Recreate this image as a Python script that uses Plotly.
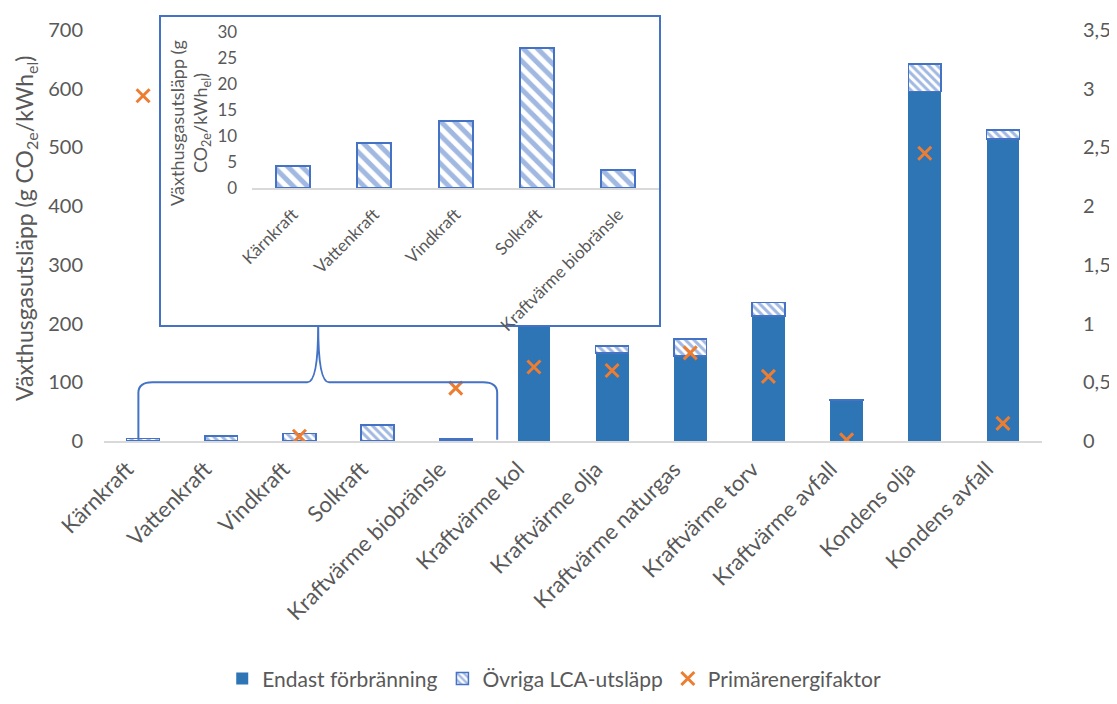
"""
Växthusgasutsläpp per kraftslag med inzoomad ruta för de små staplarna.
"""

import plotly.graph_objects as go

# --- data -----------------------------------------------------------------
kategorier = [
    "Kärnkraft", "Vattenkraft", "Vindkraft", "Solkraft", "Kraftvärme biobränsle",
    "Kraftvärme kol", "Kraftvärme olja", "Kraftvärme naturgas", "Kraftvärme torv",
    "Kraftvärme avfall", "Kondens olja", "Kondens avfall",
]
endast_forbranning = [0, 0, 0, 0, 0, 380, 150, 145, 213, 70, 595, 514]
ovriga_lca = [4.3, 8.7, 12.8, 27.0, 3.5, 20, 12, 29, 23, 0.5, 47, 16]
primarenergifaktor = [2.94, None, 0.04, None, 0.45, 0.63, 0.60, 0.75, 0.55, 0.01, 2.45, 0.15]

inset_kategorier = kategorier[:5]
inset_varden = ovriga_lca[:5]

# --- style ----------------------------------------------------------------
FONT = "Lato"
GREY = "#595959"
SOLID = "#2E75B6"
HATCH = "#4472C4"
ORANGE = "#ED7D31"
AXIS = "#D9D9D9"

fig = go.Figure()

fig.add_trace(go.Bar(
    x=kategorier, y=endast_forbranning, name="Endast förbränning",
    marker=dict(color=SOLID, line=dict(width=0)),
))
fig.add_trace(go.Bar(
    x=kategorier, y=ovriga_lca, name="Övriga LCA-utsläpp",
    marker=dict(
        color="white",
        line=dict(color=HATCH, width=1.5),
        pattern=dict(shape="\\", fgcolor=HATCH, bgcolor="white", size=6, solidity=0.5),
    ),
))
fig.add_trace(go.Scatter(
    x=kategorier, y=primarenergifaktor, name="Primärenergifaktor", yaxis="y2",
    mode="markers",
    marker=dict(symbol="x-thin", size=13, line=dict(color=ORANGE, width=3)),
))

# white box behind the inset (own subplot so it covers the main bars)
fig.add_trace(go.Scatter(x=[], y=[], xaxis="x2", yaxis="y3", showlegend=False, hoverinfo="skip"))

# inset
fig.add_trace(go.Bar(
    x=inset_kategorier, y=inset_varden, xaxis="x3", yaxis="y4", showlegend=False,
    marker=dict(
        color="white",
        line=dict(color=HATCH, width=2),
        pattern=dict(shape="\\", fgcolor=HATCH, bgcolor="white", size=10, solidity=0.5),
    ),
))

xtick_main = dict(family=FONT, size=22, color=GREY)
ytick_main = dict(family=FONT, size=20, color=GREY)
tick_inset = dict(family=FONT, size=17, color=GREY)

# page body has an 8px margin, so the figure is offset by 8px in the window
fig.update_layout(
    width=1109, height=688,
    margin=dict(l=96, r=75, t=2, b=255, autoexpand=False),
    paper_bgcolor="white", plot_bgcolor="white",
    barmode="stack", bargap=0.58,
    separators=", ",
    font=dict(family=FONT, color=GREY),
    xaxis=dict(
        domain=[0, 1], range=[-0.5, 11.5], tickangle=-45, tickfont=xtick_main,
        showline=True, linecolor=AXIS, linewidth=1.5, ticks="",
        ticklabelstandoff=5, ticklabelshift=-16, automargin=False,
    ),
    yaxis=dict(
        domain=[0, 0.9536], range=[0, 700], dtick=100, tickfont=ytick_main,
        showgrid=False, zeroline=False, showline=False, ticklabelstandoff=20,
        automargin=False,
    ),
    yaxis2=dict(
        overlaying="y", side="right", range=[0, 3.5], dtick=0.5, tickfont=ytick_main,
        showgrid=False, zeroline=False, showline=False, ticklabelstandoff=40,
        automargin=False,
    ),
    xaxis2=dict(
        domain=[0.0608, 0.5917], anchor="y3", range=[0, 1], showticklabels=False,
        showgrid=False, zeroline=False, showline=True, mirror=True,
        linecolor=HATCH, linewidth=1.5, automargin=False,
    ),
    yaxis3=dict(
        domain=[0.269, 0.984], anchor="x2", range=[0, 1], showticklabels=False,
        showgrid=False, zeroline=False, showline=True, mirror=True,
        linecolor=HATCH, linewidth=1.5, automargin=False,
    ),
    xaxis3=dict(
        domain=[0.158, 0.5917], anchor="y4", range=[-0.5, 4.5], tickangle=-45,
        tickfont=tick_inset, showline=True, linecolor=AXIS, linewidth=1.5, ticks="",
        automargin=False, ticklabelstandoff=8,
    ),
    yaxis4=dict(
        domain=[0.587, 0.949], anchor="x3", range=[0, 30], dtick=5, tickfont=tick_inset,
        showgrid=False, zeroline=False, showline=False, ticklabelstandoff=14,
        automargin=False,
    ),
    legend=dict(
        orientation="h", x=0.48, xanchor="center", y=-0.552, yanchor="middle",
        traceorder="normal", itemwidth=30,
        font=dict(family=FONT, size=21, color=GREY), bgcolor="rgba(0,0,0,0)",
    ),
    annotations=[
        dict(
            text="Växthusgasutsläpp (g CO<sub>2e</sub>/kWh<sub>el</sub>)",
            xref="paper", yref="paper", x=-0.0842, y=0.494, textangle=-90,
            xanchor="center", yanchor="middle",
            showarrow=False, font=dict(family=FONT, size=23, color=GREY),
        ),
        dict(
            text="Växthusgasutsläpp (g<br>CO<sub>2e</sub>/kWh<sub>el</sub>)",
            xref="paper", yref="paper", x=0.0917, y=0.738, textangle=-90,
            xanchor="center", yanchor="middle",
            showarrow=False, font=dict(family=FONT, size=18, color=GREY),
        ),
    ],
    shapes=[
        # curly bracket from the small bars up to the inset
        dict(
            type="path", xref="x", yref="y", layer="above",
            path=("M -0.06,2 L -0.06,82 Q -0.06,100 0.12,100 L 2.1,100 "
                  "Q 2.24,100 2.24,196 Q 2.24,100 2.38,100 L 4.35,100 "
                  "Q 4.53,100 4.53,82 L 4.53,2"),
            line=dict(color=HATCH, width=2),
        ),
    ],
)

fig.write_html("out.html")
